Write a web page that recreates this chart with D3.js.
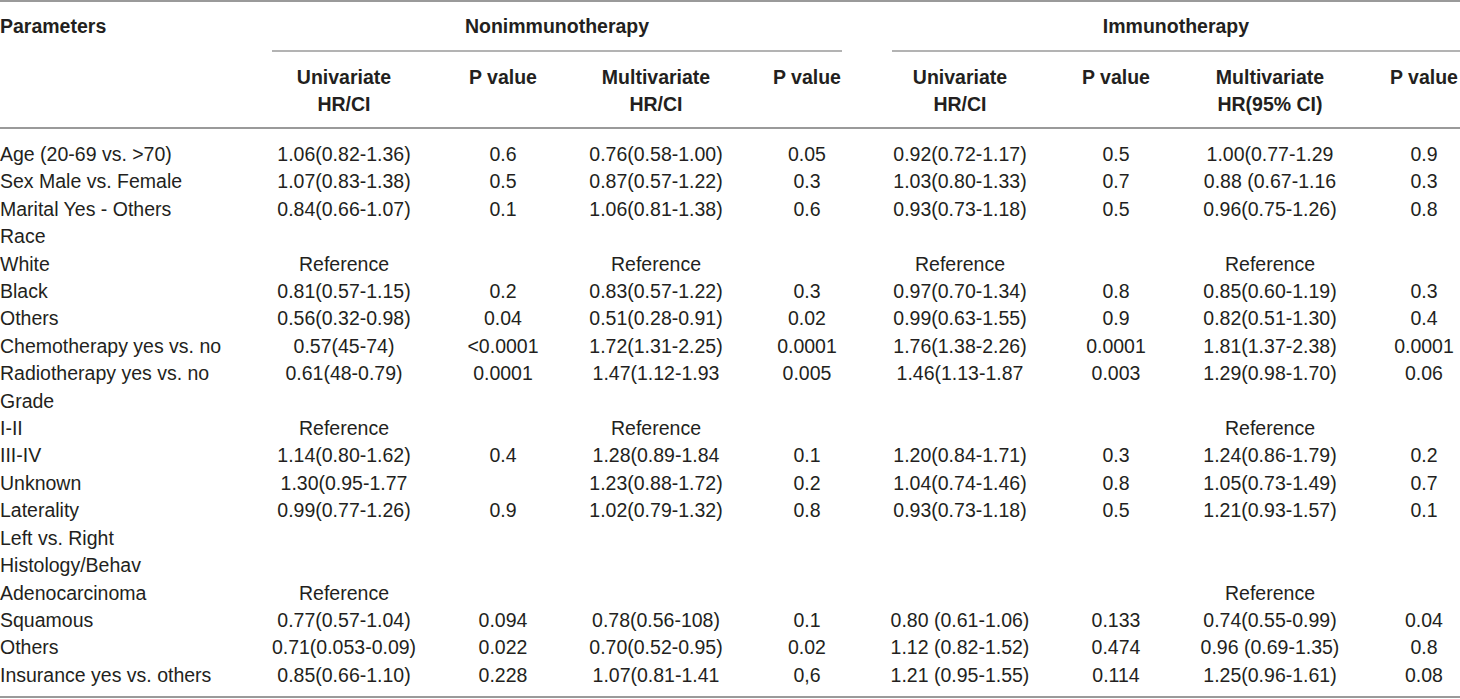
<!DOCTYPE html>
<html>
<head>
<meta charset="utf-8">
<script src="https://cdn.jsdelivr.net/npm/d3@7"></script>
<style>
  html, body { margin: 0; padding: 0; background: #fff; }
  svg text { font-family: "Liberation Sans", Arial, Helvetica, sans-serif; font-size: 19.5px; fill: #231f20; }
  svg text.head { font-weight: bold; }
</style>
</head>
<body>
<div class="table-view"></div>
<script>
// row labels
const params = [
  'Age (20-69 vs. >70)', 'Sex Male vs. Female', 'Marital Yes - Others', 'Race', 'White',
  'Black', 'Others', 'Chemotherapy yes vs. no', 'Radiotherapy yes vs. no', 'Grade',
  'I-II', 'III-IV', 'Unknown', 'Laterality', 'Left vs. Right',
  'Histology/Behav', 'Adenocarcinoma', 'Squamous', 'Others', 'Insurance yes vs. others'
];

// Nonimmunotherapy
const nonUniHR = [
  '1.06(0.82-1.36)', '1.07(0.83-1.38)', '0.84(0.66-1.07)', '', 'Reference',
  '0.81(0.57-1.15)', '0.56(0.32-0.98)', '0.57(45-74)', '0.61(48-0.79)', '',
  'Reference', '1.14(0.80-1.62)', '1.30(0.95-1.77', '0.99(0.77-1.26)', '',
  '', 'Reference', '0.77(0.57-1.04)', '0.71(0.053-0.09)', '0.85(0.66-1.10)'
];
const nonUniP = [
  '0.6', '0.5', '0.1', '', '',
  '0.2', '0.04', '<0.0001', '0.0001', '',
  '', '0.4', '', '0.9', '',
  '', '', '0.094', '0.022', '0.228'
];
const nonMultiHR = [
  '0.76(0.58-1.00)', '0.87(0.57-1.22)', '1.06(0.81-1.38)', '', 'Reference',
  '0.83(0.57-1.22)', '0.51(0.28-0.91)', '1.72(1.31-2.25)', '1.47(1.12-1.93', '',
  'Reference', '1.28(0.89-1.84', '1.23(0.88-1.72)', '1.02(0.79-1.32)', '',
  '', '', '0.78(0.56-108)', '0.70(0.52-0.95)', '1.07(0.81-1.41'
];
const nonMultiP = [
  '0.05', '0.3', '0.6', '', '',
  '0.3', '0.02', '0.0001', '0.005', '',
  '', '0.1', '0.2', '0.8', '',
  '', '', '0.1', '0.02', '0,6'
];

// Immunotherapy
const immUniHR = [
  '0.92(0.72-1.17)', '1.03(0.80-1.33)', '0.93(0.73-1.18)', '', 'Reference',
  '0.97(0.70-1.34)', '0.99(0.63-1.55)', '1.76(1.38-2.26)', '1.46(1.13-1.87', '',
  '', '1.20(0.84-1.71)', '1.04(0.74-1.46)', '0.93(0.73-1.18)', '',
  '', '', '0.80 (0.61-1.06)', '1.12 (0.82-1.52)', '1.21 (0.95-1.55)'
];
const immUniP = [
  '0.5', '0.7', '0.5', '', '',
  '0.8', '0.9', '0.0001', '0.003', '',
  '', '0.3', '0.8', '0.5', '',
  '', '', '0.133', '0.474', '0.114'
];
const immMultiHR = [
  '1.00(0.77-1.29', '0.88 (0.67-1.16', '0.96(0.75-1.26)', '', 'Reference',
  '0.85(0.60-1.19)', '0.82(0.51-1.30)', '1.81(1.37-2.38)', '1.29(0.98-1.70)', '',
  'Reference', '1.24(0.86-1.79)', '1.05(0.73-1.49)', '1.21(0.93-1.57)', '',
  '', 'Reference', '0.74(0.55-0.99)', '0.96 (0.69-1.35)', '1.25(0.96-1.61)'
];
const immMultiP = [
  '0.9', '0.3', '0.8', '', '',
  '0.3', '0.4', '0.0001', '0.06', '',
  '', '0.2', '0.7', '0.1', '',
  '', '', '0.04', '0.8', '0.08'
];

// header labels
const groups = ['Nonimmunotherapy', 'Immunotherapy'];
const colKeys = ['nonUniHR', 'nonUniP', 'nonMultiHR', 'nonMultiP', 'immUniHR', 'immUniP', 'immMultiHR', 'immMultiP'];
const colHeads = [
  ['Univariate', 'HR/CI'], ['P value'], ['Multivariate', 'HR/CI'], ['P value'],
  ['Univariate', 'HR/CI'], ['P value'], ['Multivariate', 'HR(95% CI)'], ['P value']
];

function app() {
  const WIDTH = 1460;
  const HEIGHT = 699;
  const LINE = '#9a9a9a';

  const columns = {
    nonUniHR, nonUniP, nonMultiHR, nonMultiP,
    immUniHR, immUniP, immMultiHR, immMultiP
  };

  const svg = d3.select('.table-view')
    .append('svg')
    .attr('width', WIDTH)
    .attr('height', HEIGHT);

  const x = d3.scaleOrdinal()
    .domain(colKeys)
    .range([344, 503, 656, 807, 960, 1116, 1270, 1424]);

  const y = d3.scalePoint()
    .domain(d3.range(params.length))
    .range([154, 675]);

  const groupX = d3.scaleOrdinal()
    .domain(groups)
    .range([[272, 842], [892, WIDTH]]);

  // rules
  svg.selectAll('line.rule')
    .data([1, 128, 697])
    .enter()
    .append('line')
    .attr('class', 'rule')
    .attr('x1', 0)
    .attr('x2', WIDTH)
    .attr('y1', (d) => d)
    .attr('y2', (d) => d)
    .attr('stroke', LINE)
    .attr('stroke-width', 2);

  svg.selectAll('line.group')
    .data(groups)
    .enter()
    .append('line')
    .attr('class', 'group')
    .attr('x1', (d) => groupX(d)[0])
    .attr('x2', (d) => groupX(d)[1])
    .attr('y1', 51)
    .attr('y2', 51)
    .attr('stroke', LINE)
    .attr('stroke-width', 1.5);

  // headers
  svg.append('text')
    .attr('class', 'head')
    .attr('x', 0)
    .attr('y', 26)
    .attr('dy', '0.35em')
    .text('Parameters');

  svg.selectAll('text.group')
    .data(groups)
    .enter()
    .append('text')
    .attr('class', 'head group')
    .attr('x', (d) => (groupX(d)[0] + groupX(d)[1]) / 2)
    .attr('y', 26)
    .attr('dy', '0.35em')
    .attr('text-anchor', 'middle')
    .text((d) => d);

  colKeys.forEach((key, i) => {
    svg.selectAll(null)
      .data(colHeads[i])
      .enter()
      .append('text')
      .attr('class', 'head')
      .attr('x', x(key))
      .attr('y', (d, j) => 77 + j * 27)
      .attr('dy', '0.35em')
      .attr('text-anchor', 'middle')
      .text((d) => d);
  });

  // body
  svg.selectAll('text.param')
    .data(params)
    .enter()
    .append('text')
    .attr('class', 'param')
    .attr('x', 0)
    .attr('y', (d, i) => y(i))
    .attr('dy', '0.35em')
    .text((d) => d);

  colKeys.forEach((key) => {
    const cells = columns[key]
      .map((value, row) => ({ value, row }))
      .filter((d) => d.value !== '');

    svg.selectAll(null)
      .data(cells)
      .enter()
      .append('text')
      .attr('x', x(key))
      .attr('y', (d) => y(d.row))
      .attr('dy', '0.35em')
      .attr('text-anchor', 'middle')
      .text((d) => d.value);
  });
}

app();
</script>
</body>
</html>
